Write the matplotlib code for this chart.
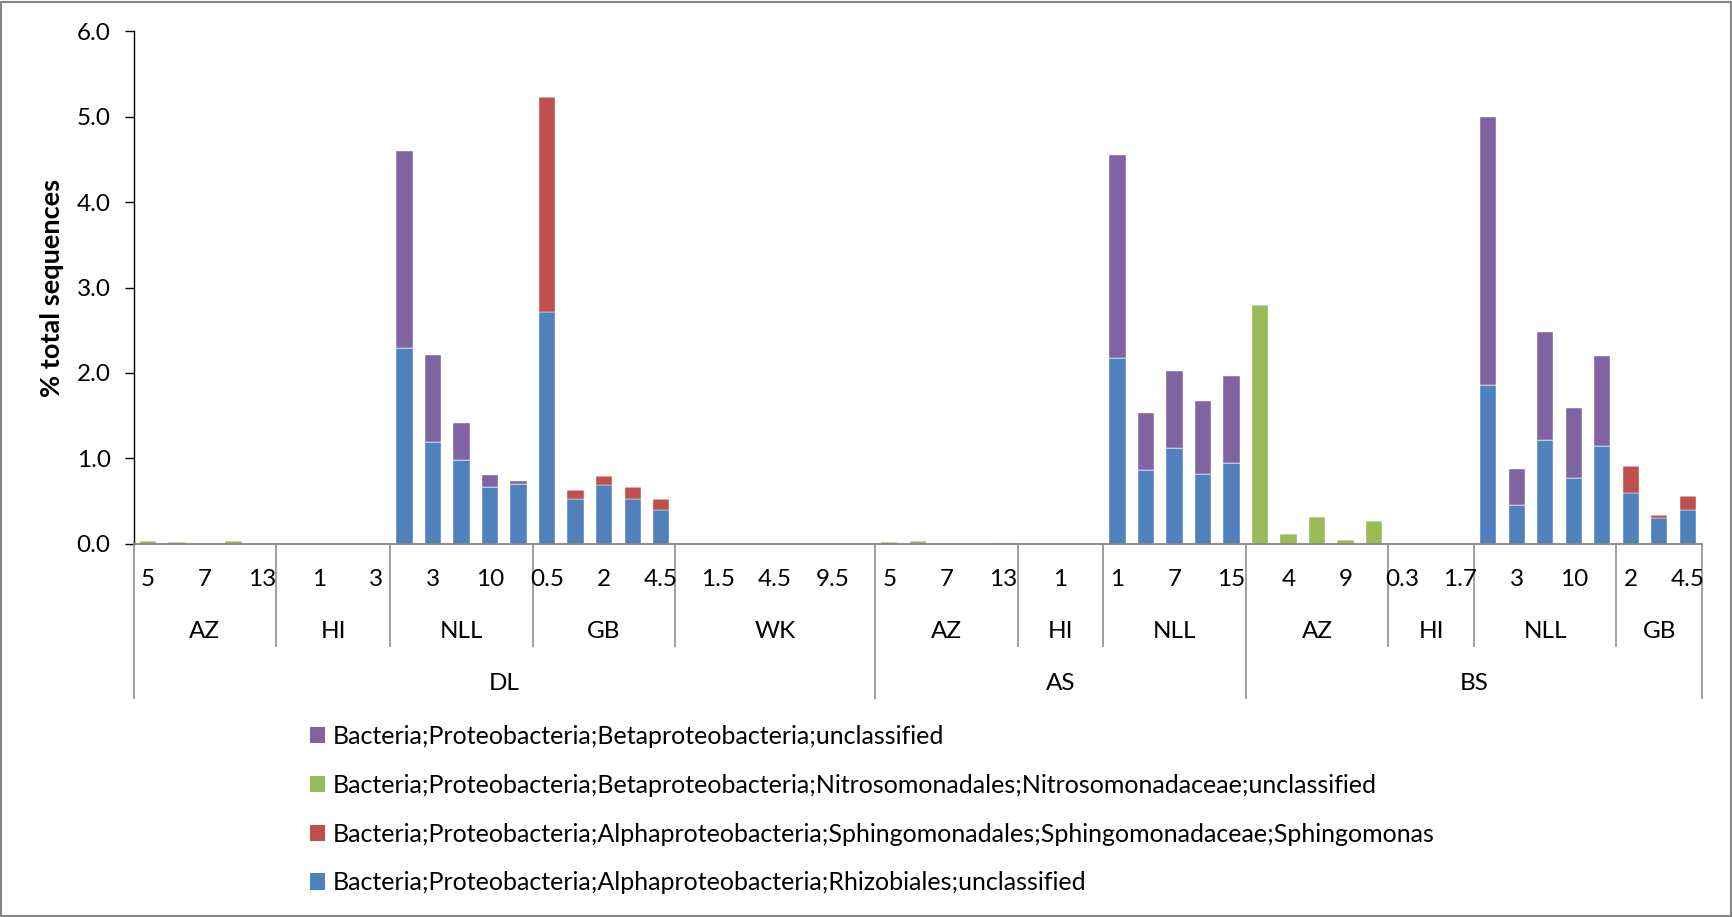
import matplotlib.pyplot as plt
import matplotlib.transforms as mtransforms
from matplotlib.patches import Patch, Rectangle
import numpy as np

plt.rcParams['font.family'] = ['Lato', 'DejaVu Sans']

# depth of each sample (only every second one fits on the axis)
depths = ['5', '', '7', '', '13',
          '', '1', '', '3',
          '', '3', '', '10', '',
          '0.5', '', '2', '', '4.5',
          '', '1.5', '', '4.5', '', '9.5', '',
          '5', '', '7', '', '13',
          '', '1', '',
          '1', '', '7', '', '15',
          '', '4', '', '9', '',
          '0.3', '', '1.7',
          '', '3', '', '10', '',
          '2', '', '4.5']
sites = ['AZ', 'HI', 'NLL', 'GB', 'WK', 'AZ', 'HI', 'NLL', 'AZ', 'HI', 'NLL', 'GB']
site_counts = [5, 4, 5, 5, 7, 5, 3, 5, 5, 3, 5, 3]
regions = ['DL', 'AS', 'BS']
region_counts = [26, 13, 16]

# % of total sequences per taxon
rhizobiales = [0, 0, 0, 0, 0,
               0, 0, 0, 0,
               2.29, 1.19, 0.98, 0.67, 0.70,
               2.71, 0.53, 0.69, 0.53, 0.40,
               0, 0, 0, 0, 0, 0, 0,
               0, 0, 0, 0, 0,
               0, 0, 0,
               2.17, 0.86, 1.12, 0.82, 0.95,
               0, 0, 0, 0, 0,
               0, 0, 0,
               1.86, 0.46, 1.21, 0.77, 1.14,
               0.60, 0.30, 0.39]
sphingomonas = [0, 0, 0, 0, 0,
                0, 0, 0, 0,
                0, 0, 0, 0, 0,
                2.52, 0.10, 0.10, 0.13, 0.12,
                0, 0, 0, 0, 0, 0, 0,
                0, 0, 0, 0, 0,
                0, 0, 0,
                0, 0, 0, 0, 0,
                0, 0, 0, 0, 0,
                0, 0, 0,
                0, 0, 0, 0, 0,
                0.31, 0.04, 0.17]
nitrosomonadaceae = [0.03, 0.025, 0, 0.035, 0,
                     0, 0, 0, 0,
                     0, 0, 0, 0, 0,
                     0, 0, 0, 0, 0,
                     0, 0, 0, 0, 0, 0, 0,
                     0.02, 0.03, 0, 0, 0.015,
                     0, 0, 0,
                     0, 0, 0, 0, 0,
                     2.79, 0.12, 0.31, 0.05, 0.27,
                     0, 0, 0,
                     0, 0, 0, 0, 0,
                     0, 0, 0]
beta_unclassified = [0, 0, 0, 0, 0,
                     0, 0, 0, 0,
                     2.31, 1.02, 0.43, 0.13, 0.04,
                     0, 0, 0, 0, 0,
                     0, 0, 0, 0, 0, 0, 0,
                     0, 0, 0, 0, 0,
                     0, 0, 0,
                     2.38, 0.67, 0.90, 0.85, 1.01,
                     0, 0, 0, 0, 0,
                     0, 0, 0,
                     3.13, 0.42, 1.27, 0.82, 1.06,
                     0, 0, 0]

series = [
    (rhizobiales, '#4F81BD',
     'Bacteria;Proteobacteria;Alphaproteobacteria;Rhizobiales;unclassified'),
    (sphingomonas, '#C0504D',
     'Bacteria;Proteobacteria;Alphaproteobacteria;Sphingomonadales;Sphingomonadaceae;Sphingomonas'),
    (nitrosomonadaceae, '#9BBB59',
     'Bacteria;Proteobacteria;Betaproteobacteria;Nitrosomonadales;Nitrosomonadaceae;unclassified'),
    (beta_unclassified, '#8064A2',
     'Bacteria;Proteobacteria;Betaproteobacteria;unclassified'),
]

W, H = 1733, 917
fs = 17.5
grey = '#868686'

fig = plt.figure(figsize=(W / 100, H / 100), dpi=100)
ax = fig.add_axes([133.6 / W, 1 - 543.8 / H, (1702 - 133.6) / W, (543.8 - 31.2) / H])

x = np.arange(len(depths))
bottom = np.zeros(len(depths))
for vals, color, label in series:
    vals = np.array(vals)
    ax.bar(x, vals, 0.57, bottom=bottom, color=color,
           edgecolor='#ffffff', linewidth=0.3)
    bottom += vals

ax.set_xlim(-0.5, len(depths) - 0.5)
ax.set_ylim(0, 6)
ax.set_yticks(np.arange(0, 6.1, 1))
ax.set_yticklabels([f'{v:.1f}' for v in np.arange(0, 6.1, 1)], fontsize=fs)
ax.tick_params(axis='y', direction='out', length=6.5, width=1.0, pad=10, colors='black')
ax.set_xticks([])
for s in ['top', 'right']:
    ax.spines[s].set_visible(False)
ax.spines['left'].set_color('black')
ax.spines['left'].set_linewidth(1.0)
ax.spines['bottom'].set_color(grey)
ax.spines['bottom'].set_linewidth(1.3)

fig.text(51.7 / W, 1 - 288 / H, '% total sequences', rotation=90,
         ha='center', va='center', fontsize=19.5, fontweight='bold')

# multi-level category axis drawn underneath the plot
trans = mtransforms.blended_transform_factory(ax.transData, fig.transFigure)


def fy(px):
    return 1 - px / H


for i, d in enumerate(depths):
    if d:
        ax.text(i, fy(579), d, transform=trans, ha='center', va='center', fontsize=fs)

edges = np.concatenate([[0], np.cumsum(site_counts)]) - 0.5
for name, lo, hi in zip(sites, edges[:-1], edges[1:]):
    ax.text((lo + hi) / 2, fy(631), name, transform=trans, ha='center', va='center', fontsize=fs)

redges = np.concatenate([[0], np.cumsum(region_counts)]) - 0.5
for name, lo, hi in zip(regions, redges[:-1], redges[1:]):
    ax.text((lo + hi) / 2, fy(684), name, transform=trans, ha='center', va='center', fontsize=fs)

for e in edges:
    end = 698.5 if e in redges else 647
    ax.plot([e, e], [fy(543.8), fy(end)], transform=trans, color=grey,
            lw=1.1, clip_on=False, solid_capstyle='butt')

handles = [Patch(facecolor=c, label=l) for _, c, l in series][::-1]
fig.legend(handles=handles, loc='upper left', bbox_to_anchor=(310 / W, fy(725)),
           frameon=False, fontsize=18, handlelength=0.62, handleheight=0.62,
           handletextpad=0.3, labelspacing=1.03, borderpad=0, borderaxespad=0)

fig.patches.append(Rectangle((1 / W, 1 / H), (W - 3) / W, (H - 3) / H,
                             transform=fig.transFigure, fill=False,
                             edgecolor=grey, linewidth=1.5))

fig.savefig('out.png', dpi=100)
